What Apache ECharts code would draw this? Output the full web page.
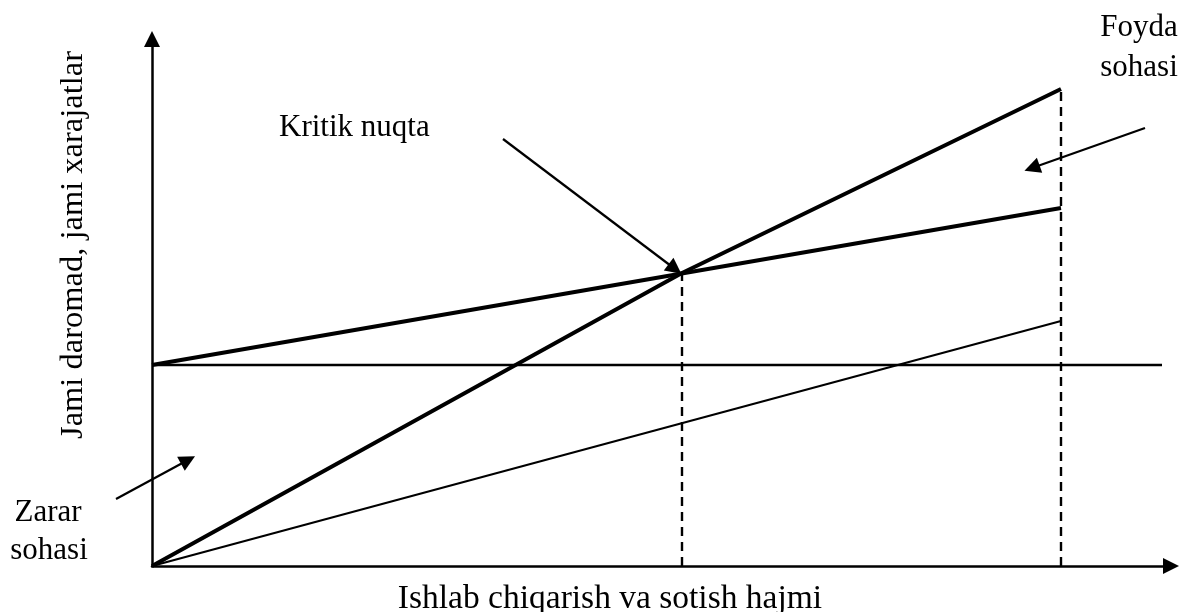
<!DOCTYPE html>
<html>
<head>
<meta charset="utf-8">
<script src="https://cdn.jsdelivr.net/npm/echarts@6/dist/echarts.min.js"></script>
<style>
  html, body { margin: 0; padding: 0; background: #fff; }
  #chart { width: 1186px; height: 612px; }
</style>
</head>
<body>
<div id="chart"></div>
<script>
// units (origin at the axes crossing)
var revenue = [[0, 0], [530, 293], [909, 477]];
var totalCost = [[0, 201], [909, 358]];
var fixedCost = [[0, 201], [1010, 201]];
var variableCost = [[0, 0], [909, 245]];
var breakEvenDrop = [[530, 0], [530, 293]];
var maxDrop = [[909, 0], [909, 477]];

// annotation arrows: [from, to]
var arrowCritical = [[351, 427], [523, 297]];
var arrowProfit = [[993, 438], [880, 398]];
var arrowLoss = [[-36, 67], [36, 106]];

var xName = 'Ishlab chiqarish va sotish hajmi';
var yName = 'Jami daromad, jami xarajatlar';
var font = '31px "Liberation Serif", "Times New Roman", serif';
var xNameFont = '33.5px "Liberation Serif", "Times New Roman", serif';
var yNameFont = '32.5px "Liberation Serif", "Times New Roman", serif';

var chart = echarts.init(document.getElementById('chart'));

function axis() {
  return {
    type: 'value',
    min: 0,
    axisLine: {
      show: true,
      symbol: ['none', 'triangle'],
      symbolSize: [16, 16],
      lineStyle: { color: '#000', width: 2.5 }
    },
    axisTick: { show: false },
    axisLabel: { show: false },
    splitLine: { show: false }
  };
}

function line(data, width, type) {
  return {
    type: 'line',
    data: data,
    showSymbol: false,
    symbol: 'none',
    silent: true,
    clip: false,
    lineStyle: { color: '#000', width: width, type: type || 'solid' }
  };
}

function arrow(pair) {
  return {
    type: 'lines',
    coordinateSystem: 'cartesian2d',
    clip: false,
    symbol: ['none', 'triangle'],
    symbolSize: 16,
    silent: true,
    lineStyle: { color: '#000', width: 2.2, opacity: 1, curveness: 0 },
    data: [{ coords: pair }]
  };
}

var xAxis = axis();
xAxis.max = 1019;
var yAxis = axis();
yAxis.max = 527;

chart.setOption({
  animation: false,
  grid: { left: 152, right: 15, top: 39, bottom: 46 },
  xAxis: xAxis,
  yAxis: yAxis,
  series: [
    line(fixedCost, 2.4),
    line(variableCost, 2.2),
    line(breakEvenDrop, 2.4, [9, 6]),
    line(maxDrop, 2.4, [9, 6]),
    line(totalCost, 4),
    line(revenue, 4),
    arrow(arrowCritical),
    arrow(arrowProfit),
    arrow(arrowLoss)
  ],
  graphic: [
    { type: 'text', x: 279, y: 128, style: { text: 'Kritik nuqta', font: font, fill: '#000', textAlign: 'left', textVerticalAlign: 'middle' } },
    { type: 'text', x: 1139, y: 28, style: { text: 'Foyda', font: font, fill: '#000', textAlign: 'center', textVerticalAlign: 'middle' } },
    { type: 'text', x: 1139, y: 68, style: { text: 'sohasi', font: font, fill: '#000', textAlign: 'center', textVerticalAlign: 'middle' } },
    { type: 'text', x: 48, y: 513, style: { text: 'Zarar', font: font, fill: '#000', textAlign: 'center', textVerticalAlign: 'middle' } },
    { type: 'text', x: 49, y: 551, style: { text: 'sohasi', font: font, fill: '#000', textAlign: 'center', textVerticalAlign: 'middle' } },
    { type: 'text', x: 610, y: 599, style: { text: xName, font: xNameFont, fill: '#000', textAlign: 'center', textVerticalAlign: 'middle' } },
    { type: 'text', x: 73, y: 245, rotation: Math.PI / 2, style: { text: yName, font: yNameFont, fill: '#000', textAlign: 'center', textVerticalAlign: 'middle' } }
  ]
});
</script>
</body>
</html>
